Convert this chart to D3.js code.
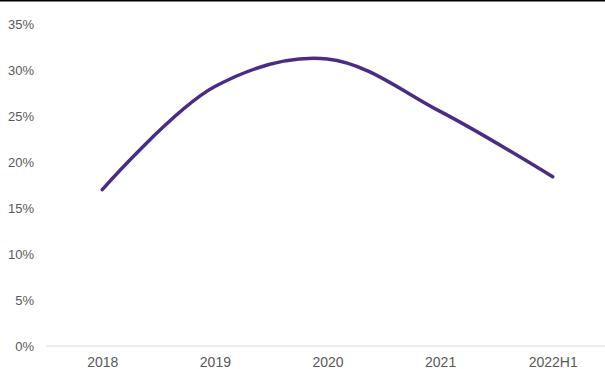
<!DOCTYPE html>
<html>
<head>
<meta charset="utf-8">
<script src="https://cdn.jsdelivr.net/npm/d3@7"></script>
<style>
  html, body { margin: 0; padding: 0; background: #fff; }
  svg { display: block; }
  text { font-family: "Liberation Sans", Arial, sans-serif; font-size: 13px; fill: #595959; }
  .x-axis text { font-size: 14px; }
</style>
</head>
<body>
<svg id="chart" width="605" height="369"></svg>
<script>
// Share by period
const categories = ["2018", "2019", "2020", "2021", "2022H1"];
const values = [17.0, 28.2, 31.2, 25.5, 18.4];
const yTicks = [0, 5, 10, 15, 20, 25, 30, 35];

const W = 605, H = 369;
const margin = { top: 24, right: -4, bottom: 23, left: 46 };

const svg = d3.select("#chart");

// top rule
svg.append("line")
  .attr("x1", 0).attr("x2", W).attr("y1", 0.5).attr("y2", 0.5)
  .attr("stroke", "#000").attr("stroke-width", 2);

const x = d3.scalePoint()
  .domain(categories)
  .range([margin.left, W - margin.right])
  .padding(0.5);

const y = d3.scaleLinear()
  .domain([0, 35])
  .range([H - margin.bottom, margin.top]);

// y axis (labels only)
const yAxis = svg.append("g")
  .attr("transform", `translate(${margin.left},0)`)
  .call(d3.axisLeft(y).tickValues(yTicks).tickFormat(d => d + "%").tickSize(0).tickPadding(12));
yAxis.select(".domain").remove();
yAxis.selectAll("text").attr("fill", "#595959");

// x axis baseline and labels
const xAxis = svg.append("g")
  .attr("class", "x-axis")
  .attr("transform", `translate(0,${y(0)})`)
  .call(d3.axisBottom(x).tickSize(0).tickPadding(11));
xAxis.select(".domain").remove();
xAxis.selectAll("text").attr("fill", "#595959");
svg.append("line")
  .attr("x1", margin.left).attr("x2", W)
  .attr("y1", y(0)).attr("y2", y(0))
  .attr("stroke", "#d9d9d9").attr("stroke-width", 1);

// smoothed series line
const line = d3.line()
  .x((d, i) => x(categories[i]))
  .y(d => y(d))
  .curve(d3.curveCatmullRom.alpha(0.5));

svg.append("path")
  .datum(values)
  .attr("d", line)
  .attr("fill", "none")
  .attr("stroke", "#4b2c83")
  .attr("stroke-width", 3.5)
  .attr("stroke-linecap", "round")
  .attr("stroke-linejoin", "round");
</script>
</body>
</html>
